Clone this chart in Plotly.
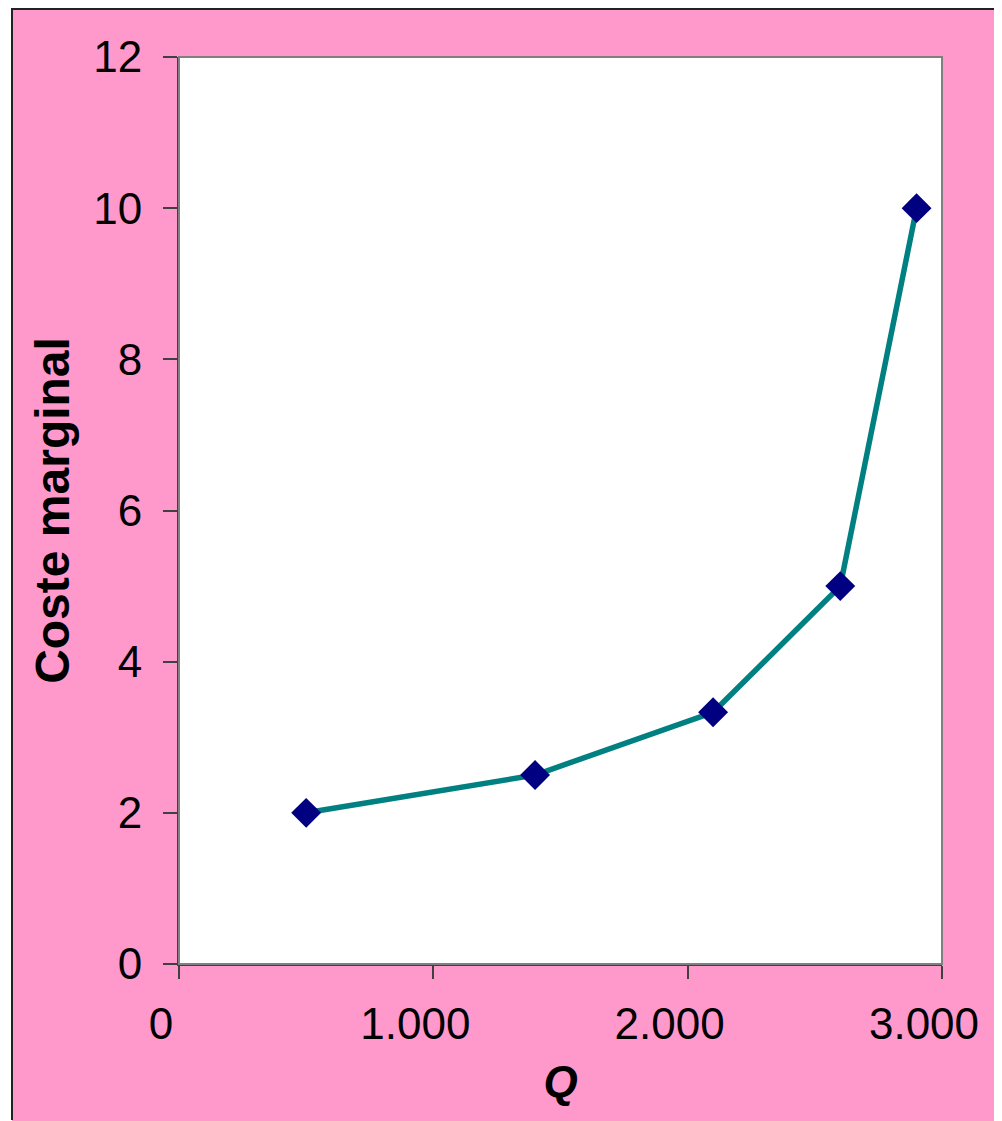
import plotly.graph_objects as go

# Data
q_values = [500, 1400, 2100, 2600, 2900]
coste_marginal = [2.0, 2.5, 3.33, 5.0, 10.0]

x_tickvals = [0, 1000, 2000, 3000]
x_ticktext = ["0", "1.000", "2.000", "3.000"]
y_tickvals = [0, 2, 4, 6, 8, 10, 12]
y_ticktext = ["0", "2", "4", "6", "8", "10", "12"]

PINK = "#FF99CC"
FONT = "Liberation Sans, Arial, sans-serif"

fig = go.Figure()
fig.add_trace(go.Scatter(
    x=q_values, y=coste_marginal, mode="lines+markers",
    line=dict(color="#008080", width=5.5),
    marker=dict(symbol="diamond", size=23, color="#000080", line=dict(width=0)),
    showlegend=False,
))

# page has an 8px body margin, so the figure is sized to fit inside it
W, H = 994, 1113
L, R, T, B = 171, 60, 49, 157
PW, PH = W - L - R, H - T - B


def px(x):
    return (x - L) / PW


def py(y):
    return (H - B - y) / PH


fig.update_layout(
    width=W, height=H,
    margin=dict(l=L, r=R, t=T, b=B, autoexpand=False),
    paper_bgcolor=PINK, plot_bgcolor="white",
    font=dict(family=FONT, color="black", size=44),
    xaxis=dict(
        range=[0, 3000], tickvals=x_tickvals, ticktext=x_ticktext,
        showgrid=False, zeroline=False,
        ticks="outside", ticklen=13, tickwidth=1.5, tickcolor="#404040",
        showline=True, linecolor="#404040", linewidth=1.5,
        tickfont=dict(size=44), ticklabelstandoff=7, ticklabelshift=-18,
        ticklabeloverflow="allow",
        title=dict(text="<b><i>Q</i></b>", font=dict(size=44), standoff=20),
    ),
    yaxis=dict(
        range=[0, 12], tickvals=y_tickvals, ticktext=y_ticktext,
        showgrid=False, zeroline=False,
        ticks="outside", ticklen=14, tickwidth=1.5, tickcolor="#404040",
        showline=True, linecolor="#404040", linewidth=2,
        tickfont=dict(size=44), ticklabelstandoff=12,
        ticklabeloverflow="allow",
        title=dict(text="<b>Coste marginal</b>", font=dict(size=48), standoff=8),
    ),
    shapes=[
        # plot border
        dict(type="rect", xref="paper", yref="paper", x0=0, x1=1, y0=0, y1=1,
             line=dict(color="#808080", width=2), fillcolor="rgba(0,0,0,0)", layer="above"),
        # white strip left of the frame
        dict(type="rect", xref="paper", yref="paper",
             x0=px(0), x1=px(4), y0=py(H), y1=py(0),
             line=dict(width=0), fillcolor="white", layer="below"),
        # black frame lines (left, top)
        dict(type="line", xref="paper", yref="paper",
             x0=px(4), x1=px(4), y0=py(1112), y1=py(0),
             line=dict(color="#222222", width=2)),
        dict(type="line", xref="paper", yref="paper",
             x0=px(4), x1=px(W), y0=py(1), y1=py(1),
             line=dict(color="#222222", width=2)),
    ],
)

fig.write_html("out.html")
